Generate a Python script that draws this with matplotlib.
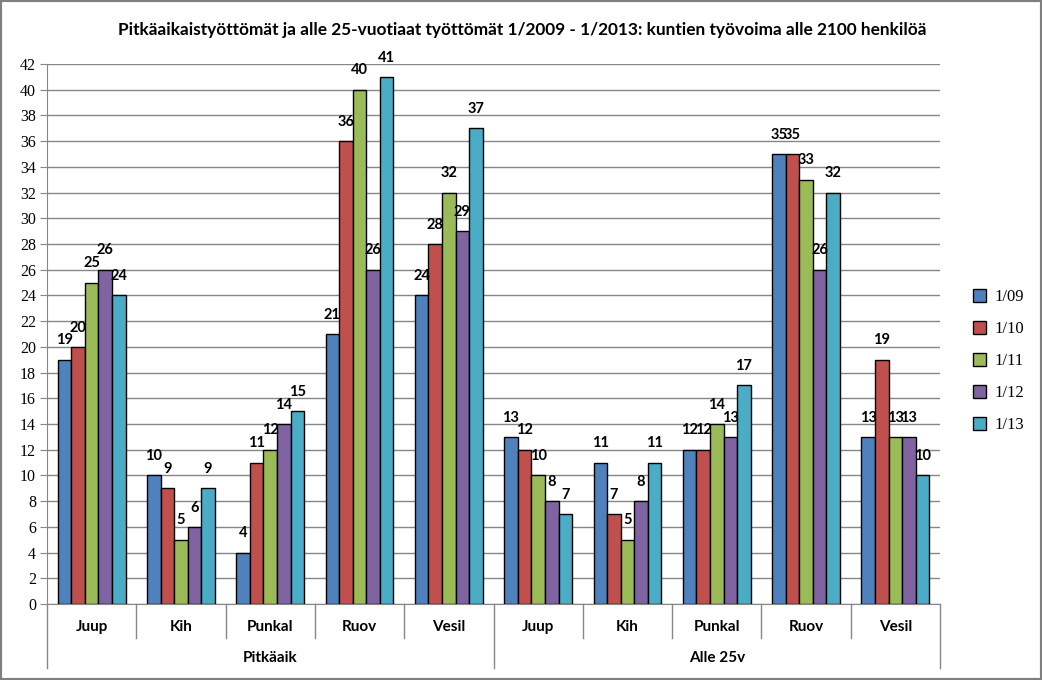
import matplotlib
matplotlib.use("Agg")
import matplotlib.pyplot as plt
from matplotlib.patches import Rectangle
from matplotlib.transforms import blended_transform_factory
import numpy as np

title = "Pitkäaikaistyöttömät ja alle 25-vuotiaat työttömät 1/2009 - 1/2013: kuntien työvoima alle 2100 henkilöä"
categories = ["Juup", "Kih", "Punkal", "Ruov", "Vesil", "Juup", "Kih", "Punkal", "Ruov", "Vesil"]
groups = ["Pitkäaik", "Alle 25v"]
series_names = ["1/09", "1/10", "1/11", "1/12", "1/13"]
s_09 = [19, 10, 4, 21, 24, 13, 11, 12, 35, 13]
s_10 = [20, 9, 11, 36, 28, 12, 7, 12, 35, 19]
s_11 = [25, 5, 12, 40, 32, 10, 5, 14, 33, 13]
s_12 = [26, 6, 14, 26, 29, 8, 8, 13, 26, 13]
s_13 = [24, 9, 15, 41, 37, 7, 11, 17, 32, 10]
series = [s_09, s_10, s_11, s_12, s_13]
colors = ["#4F81BD", "#C0504D", "#9BBB59", "#8064A2", "#4BACC6"]

fig = plt.figure(figsize=(10.42, 6.8), dpi=100)
ax = fig.add_axes([47/1042, 1-604/680, (940-47)/1042, (604-64)/680])

x = np.arange(len(categories))
w = 0.152
for i, (vals, c, name) in enumerate(zip(series, colors, series_names)):
    pos = x + (i - 2) * w
    ax.bar(pos, vals, width=w, color=c, edgecolor="black", linewidth=1.0,
           label=name, zorder=3)
    for p, v in zip(pos, vals):
        ax.text(p, v + 0.95, str(v), ha="center", va="bottom", fontsize=10.5,
                fontweight="bold", family="Lato", zorder=4)

ax.set_xlim(-0.5, len(categories) - 0.5)
ax.set_ylim(0, 42)
ax.set_yticks(range(0, 43, 2))
ax.yaxis.grid(True, color="#868686", linewidth=1.0, zorder=0)
ax.set_axisbelow(True)
for sp in ["top", "right"]:
    ax.spines[sp].set_visible(False)
ax.spines["left"].set_color("#868686")
ax.spines["bottom"].set_color("#868686")
ax.tick_params(axis="y", direction="out", length=5, color="#868686", pad=3)
for lab in ax.get_yticklabels():
    lab.set_family("Liberation Serif")
    lab.set_fontsize(11.5)
ax.set_xticks([])

trans = blended_transform_factory(ax.transData, ax.transAxes)
for k in range(len(categories) + 1):
    xx = k - 0.5
    bottom = -0.1185 if k in (0, 5, 10) else -0.063
    ax.plot([xx, xx], [0, bottom], transform=trans, color="#868686",
            linewidth=1.0, clip_on=False)
for k, name in enumerate(categories):
    ax.text(k, -0.043, name, transform=trans, ha="center", va="center",
            fontsize=11, fontweight="bold", family="Lato")
for g, name in enumerate(groups):
    ax.text(2 + 5 * g, -0.1, name, transform=trans, ha="center", va="center",
            fontsize=11, fontweight="bold", family="Lato")

fig.text(522/1042, 1 - 30/680, title, ha="center", va="center", fontsize=12.4,
         fontweight="bold", family="Lato")

fig.legend(loc="center left", bbox_to_anchor=(958/1042, 1 - 361/680),
           frameon=False, prop={"family": "Liberation Serif", "size": 12},
           handlelength=0.8, handleheight=0.8, labelspacing=0.95,
           handletextpad=0.5)

fig.patches.append(Rectangle((0, 0), 1, 1, transform=fig.transFigure,
                             fill=False, edgecolor="#7F7F7F", linewidth=3))

fig.savefig("out.png", dpi=100)
